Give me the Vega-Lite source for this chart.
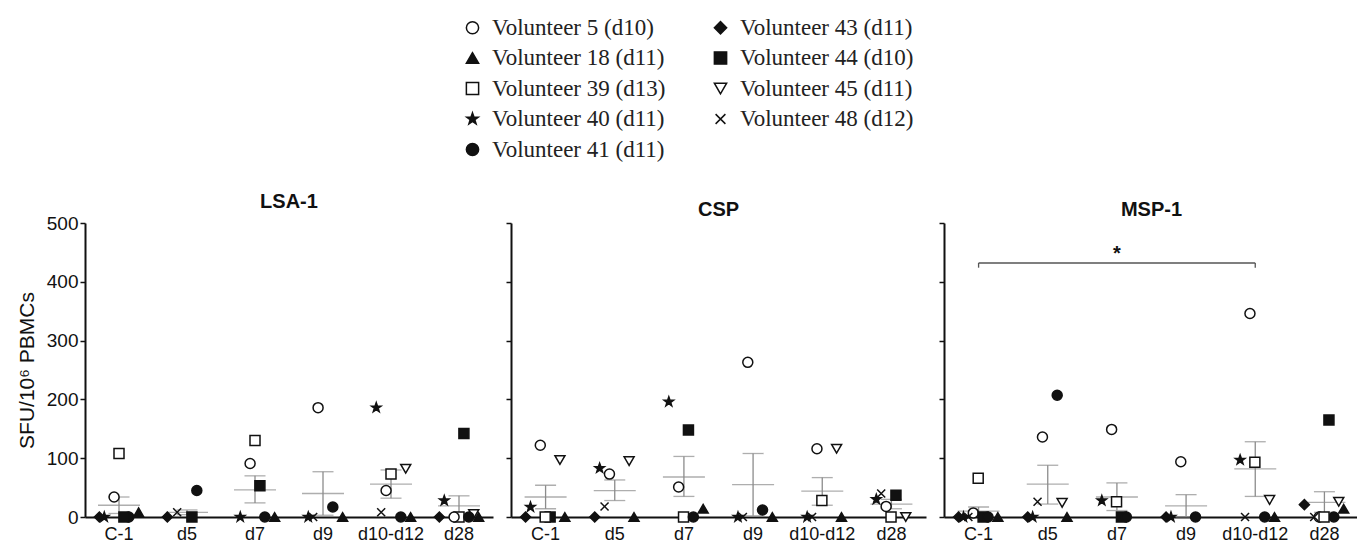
{
  "$schema": "https://vega.github.io/schema/vega-lite/v6.json",
  "padding": {"left": 16, "top": 16, "right": 0, "bottom": 2},
  "config": {
    "font": "Liberation Sans",
    "view": {"stroke": null},
    "axis": {"domainColor": "#111", "domainWidth": 2, "tickColor": "#111", "tickWidth": 1.5, "grid": false, "labelColor": "#111", "titleColor": "#111"},
    "title": {"font": "Liberation Sans", "fontSize": 20, "fontWeight": "bold", "color": "#111", "offset": 2}
  },
  "datasets": {
    "pts": [
      {"antigen": "LSA-1", "time": "C-1", "volunteer": "Volunteer 39 (d13)", "sfu": 108},
      {"antigen": "LSA-1", "time": "C-1", "volunteer": "Volunteer 5 (d10)", "sfu": 34},
      {"antigen": "LSA-1", "time": "C-1", "volunteer": "Volunteer 41 (d11)", "sfu": 0},
      {"antigen": "LSA-1", "time": "C-1", "volunteer": "Volunteer 44 (d10)", "sfu": 0},
      {"antigen": "LSA-1", "time": "C-1", "volunteer": "Volunteer 43 (d11)", "sfu": 0},
      {"antigen": "LSA-1", "time": "C-1", "volunteer": "Volunteer 40 (d11)", "sfu": 0},
      {"antigen": "LSA-1", "time": "C-1", "volunteer": "Volunteer 18 (d11)", "sfu": 8},
      {"antigen": "LSA-1", "time": "d5", "volunteer": "Volunteer 41 (d11)", "sfu": 45},
      {"antigen": "LSA-1", "time": "d5", "volunteer": "Volunteer 44 (d10)", "sfu": 0},
      {"antigen": "LSA-1", "time": "d5", "volunteer": "Volunteer 43 (d11)", "sfu": 0},
      {"antigen": "LSA-1", "time": "d5", "volunteer": "Volunteer 48 (d12)", "sfu": 8},
      {"antigen": "LSA-1", "time": "d7", "volunteer": "Volunteer 39 (d13)", "sfu": 130},
      {"antigen": "LSA-1", "time": "d7", "volunteer": "Volunteer 5 (d10)", "sfu": 91},
      {"antigen": "LSA-1", "time": "d7", "volunteer": "Volunteer 44 (d10)", "sfu": 53},
      {"antigen": "LSA-1", "time": "d7", "volunteer": "Volunteer 18 (d11)", "sfu": 0},
      {"antigen": "LSA-1", "time": "d7", "volunteer": "Volunteer 40 (d11)", "sfu": 0},
      {"antigen": "LSA-1", "time": "d7", "volunteer": "Volunteer 41 (d11)", "sfu": 0},
      {"antigen": "LSA-1", "time": "d9", "volunteer": "Volunteer 5 (d10)", "sfu": 186},
      {"antigen": "LSA-1", "time": "d9", "volunteer": "Volunteer 41 (d11)", "sfu": 17},
      {"antigen": "LSA-1", "time": "d9", "volunteer": "Volunteer 18 (d11)", "sfu": 0},
      {"antigen": "LSA-1", "time": "d9", "volunteer": "Volunteer 40 (d11)", "sfu": 0},
      {"antigen": "LSA-1", "time": "d9", "volunteer": "Volunteer 48 (d12)", "sfu": 0},
      {"antigen": "LSA-1", "time": "d10-d12", "volunteer": "Volunteer 40 (d11)", "sfu": 186},
      {"antigen": "LSA-1", "time": "d10-d12", "volunteer": "Volunteer 45 (d11)", "sfu": 82},
      {"antigen": "LSA-1", "time": "d10-d12", "volunteer": "Volunteer 39 (d13)", "sfu": 73},
      {"antigen": "LSA-1", "time": "d10-d12", "volunteer": "Volunteer 5 (d10)", "sfu": 45},
      {"antigen": "LSA-1", "time": "d10-d12", "volunteer": "Volunteer 48 (d12)", "sfu": 8},
      {"antigen": "LSA-1", "time": "d10-d12", "volunteer": "Volunteer 41 (d11)", "sfu": 0},
      {"antigen": "LSA-1", "time": "d10-d12", "volunteer": "Volunteer 18 (d11)", "sfu": 0},
      {"antigen": "LSA-1", "time": "d28", "volunteer": "Volunteer 44 (d10)", "sfu": 142},
      {"antigen": "LSA-1", "time": "d28", "volunteer": "Volunteer 40 (d11)", "sfu": 28},
      {"antigen": "LSA-1", "time": "d28", "volunteer": "Volunteer 39 (d13)", "sfu": 0},
      {"antigen": "LSA-1", "time": "d28", "volunteer": "Volunteer 45 (d11)", "sfu": 5},
      {"antigen": "LSA-1", "time": "d28", "volunteer": "Volunteer 43 (d11)", "sfu": 0},
      {"antigen": "LSA-1", "time": "d28", "volunteer": "Volunteer 41 (d11)", "sfu": 0},
      {"antigen": "LSA-1", "time": "d28", "volunteer": "Volunteer 18 (d11)", "sfu": 0},
      {"antigen": "LSA-1", "time": "d28", "volunteer": "Volunteer 5 (d10)", "sfu": 0},
      {"antigen": "CSP", "time": "C-1", "volunteer": "Volunteer 5 (d10)", "sfu": 122},
      {"antigen": "CSP", "time": "C-1", "volunteer": "Volunteer 45 (d11)", "sfu": 97},
      {"antigen": "CSP", "time": "C-1", "volunteer": "Volunteer 40 (d11)", "sfu": 17},
      {"antigen": "CSP", "time": "C-1", "volunteer": "Volunteer 43 (d11)", "sfu": 0},
      {"antigen": "CSP", "time": "C-1", "volunteer": "Volunteer 18 (d11)", "sfu": 0},
      {"antigen": "CSP", "time": "C-1", "volunteer": "Volunteer 44 (d10)", "sfu": 0},
      {"antigen": "CSP", "time": "C-1", "volunteer": "Volunteer 39 (d13)", "sfu": 0},
      {"antigen": "CSP", "time": "d5", "volunteer": "Volunteer 40 (d11)", "sfu": 83},
      {"antigen": "CSP", "time": "d5", "volunteer": "Volunteer 5 (d10)", "sfu": 73},
      {"antigen": "CSP", "time": "d5", "volunteer": "Volunteer 45 (d11)", "sfu": 95},
      {"antigen": "CSP", "time": "d5", "volunteer": "Volunteer 48 (d12)", "sfu": 18},
      {"antigen": "CSP", "time": "d5", "volunteer": "Volunteer 43 (d11)", "sfu": 0},
      {"antigen": "CSP", "time": "d5", "volunteer": "Volunteer 18 (d11)", "sfu": 0},
      {"antigen": "CSP", "time": "d7", "volunteer": "Volunteer 40 (d11)", "sfu": 196},
      {"antigen": "CSP", "time": "d7", "volunteer": "Volunteer 44 (d10)", "sfu": 148},
      {"antigen": "CSP", "time": "d7", "volunteer": "Volunteer 5 (d10)", "sfu": 51},
      {"antigen": "CSP", "time": "d7", "volunteer": "Volunteer 18 (d11)", "sfu": 14},
      {"antigen": "CSP", "time": "d7", "volunteer": "Volunteer 39 (d13)", "sfu": 0},
      {"antigen": "CSP", "time": "d7", "volunteer": "Volunteer 41 (d11)", "sfu": 0},
      {"antigen": "CSP", "time": "d9", "volunteer": "Volunteer 5 (d10)", "sfu": 263},
      {"antigen": "CSP", "time": "d9", "volunteer": "Volunteer 41 (d11)", "sfu": 12},
      {"antigen": "CSP", "time": "d9", "volunteer": "Volunteer 18 (d11)", "sfu": 0},
      {"antigen": "CSP", "time": "d9", "volunteer": "Volunteer 40 (d11)", "sfu": 0},
      {"antigen": "CSP", "time": "d9", "volunteer": "Volunteer 48 (d12)", "sfu": 0},
      {"antigen": "CSP", "time": "d10-d12", "volunteer": "Volunteer 5 (d10)", "sfu": 116},
      {"antigen": "CSP", "time": "d10-d12", "volunteer": "Volunteer 45 (d11)", "sfu": 116},
      {"antigen": "CSP", "time": "d10-d12", "volunteer": "Volunteer 39 (d13)", "sfu": 28},
      {"antigen": "CSP", "time": "d10-d12", "volunteer": "Volunteer 40 (d11)", "sfu": 0},
      {"antigen": "CSP", "time": "d10-d12", "volunteer": "Volunteer 48 (d12)", "sfu": 0},
      {"antigen": "CSP", "time": "d10-d12", "volunteer": "Volunteer 18 (d11)", "sfu": 0},
      {"antigen": "CSP", "time": "d28", "volunteer": "Volunteer 44 (d10)", "sfu": 37},
      {"antigen": "CSP", "time": "d28", "volunteer": "Volunteer 5 (d10)", "sfu": 18},
      {"antigen": "CSP", "time": "d28", "volunteer": "Volunteer 40 (d11)", "sfu": 30},
      {"antigen": "CSP", "time": "d28", "volunteer": "Volunteer 48 (d12)", "sfu": 40},
      {"antigen": "CSP", "time": "d28", "volunteer": "Volunteer 39 (d13)", "sfu": 0},
      {"antigen": "CSP", "time": "d28", "volunteer": "Volunteer 45 (d11)", "sfu": 0},
      {"antigen": "MSP-1", "time": "C-1", "volunteer": "Volunteer 39 (d13)", "sfu": 66},
      {"antigen": "MSP-1", "time": "C-1", "volunteer": "Volunteer 5 (d10)", "sfu": 7},
      {"antigen": "MSP-1", "time": "C-1", "volunteer": "Volunteer 43 (d11)", "sfu": 0},
      {"antigen": "MSP-1", "time": "C-1", "volunteer": "Volunteer 48 (d12)", "sfu": 0},
      {"antigen": "MSP-1", "time": "C-1", "volunteer": "Volunteer 40 (d11)", "sfu": 0},
      {"antigen": "MSP-1", "time": "C-1", "volunteer": "Volunteer 44 (d10)", "sfu": 0},
      {"antigen": "MSP-1", "time": "C-1", "volunteer": "Volunteer 18 (d11)", "sfu": 0},
      {"antigen": "MSP-1", "time": "C-1", "volunteer": "Volunteer 41 (d11)", "sfu": 0},
      {"antigen": "MSP-1", "time": "d5", "volunteer": "Volunteer 41 (d11)", "sfu": 207},
      {"antigen": "MSP-1", "time": "d5", "volunteer": "Volunteer 5 (d10)", "sfu": 136},
      {"antigen": "MSP-1", "time": "d5", "volunteer": "Volunteer 48 (d12)", "sfu": 26},
      {"antigen": "MSP-1", "time": "d5", "volunteer": "Volunteer 45 (d11)", "sfu": 24},
      {"antigen": "MSP-1", "time": "d5", "volunteer": "Volunteer 40 (d11)", "sfu": 0},
      {"antigen": "MSP-1", "time": "d5", "volunteer": "Volunteer 43 (d11)", "sfu": 0},
      {"antigen": "MSP-1", "time": "d5", "volunteer": "Volunteer 18 (d11)", "sfu": 0},
      {"antigen": "MSP-1", "time": "d7", "volunteer": "Volunteer 5 (d10)", "sfu": 149},
      {"antigen": "MSP-1", "time": "d7", "volunteer": "Volunteer 39 (d13)", "sfu": 26},
      {"antigen": "MSP-1", "time": "d7", "volunteer": "Volunteer 40 (d11)", "sfu": 28},
      {"antigen": "MSP-1", "time": "d7", "volunteer": "Volunteer 44 (d10)", "sfu": 0},
      {"antigen": "MSP-1", "time": "d7", "volunteer": "Volunteer 41 (d11)", "sfu": 0},
      {"antigen": "MSP-1", "time": "d9", "volunteer": "Volunteer 5 (d10)", "sfu": 94},
      {"antigen": "MSP-1", "time": "d9", "volunteer": "Volunteer 43 (d11)", "sfu": 0},
      {"antigen": "MSP-1", "time": "d9", "volunteer": "Volunteer 41 (d11)", "sfu": 0},
      {"antigen": "MSP-1", "time": "d9", "volunteer": "Volunteer 40 (d11)", "sfu": 0},
      {"antigen": "MSP-1", "time": "d10-d12", "volunteer": "Volunteer 5 (d10)", "sfu": 346},
      {"antigen": "MSP-1", "time": "d10-d12", "volunteer": "Volunteer 39 (d13)", "sfu": 93},
      {"antigen": "MSP-1", "time": "d10-d12", "volunteer": "Volunteer 40 (d11)", "sfu": 97},
      {"antigen": "MSP-1", "time": "d10-d12", "volunteer": "Volunteer 45 (d11)", "sfu": 29},
      {"antigen": "MSP-1", "time": "d10-d12", "volunteer": "Volunteer 18 (d11)", "sfu": 0},
      {"antigen": "MSP-1", "time": "d10-d12", "volunteer": "Volunteer 41 (d11)", "sfu": 0},
      {"antigen": "MSP-1", "time": "d10-d12", "volunteer": "Volunteer 48 (d12)", "sfu": 0},
      {"antigen": "MSP-1", "time": "d28", "volunteer": "Volunteer 44 (d10)", "sfu": 165},
      {"antigen": "MSP-1", "time": "d28", "volunteer": "Volunteer 43 (d11)", "sfu": 21},
      {"antigen": "MSP-1", "time": "d28", "volunteer": "Volunteer 45 (d11)", "sfu": 26},
      {"antigen": "MSP-1", "time": "d28", "volunteer": "Volunteer 18 (d11)", "sfu": 14},
      {"antigen": "MSP-1", "time": "d28", "volunteer": "Volunteer 5 (d10)", "sfu": 0},
      {"antigen": "MSP-1", "time": "d28", "volunteer": "Volunteer 48 (d12)", "sfu": 0},
      {"antigen": "MSP-1", "time": "d28", "volunteer": "Volunteer 41 (d11)", "sfu": 0},
      {"antigen": "MSP-1", "time": "d28", "volunteer": "Volunteer 39 (d13)", "sfu": 0}
    ],
    "stats": [
      {"antigen": "LSA-1", "time": "C-1", "mean": 20, "lo": 6, "hi": 34},
      {"antigen": "LSA-1", "time": "d5", "mean": 8, "lo": 4, "hi": 12},
      {"antigen": "LSA-1", "time": "d7", "mean": 46, "lo": 24, "hi": 70},
      {"antigen": "LSA-1", "time": "d9", "mean": 40, "lo": 3, "hi": 77},
      {"antigen": "LSA-1", "time": "d10-d12", "mean": 56, "lo": 32, "hi": 80},
      {"antigen": "LSA-1", "time": "d28", "mean": 19, "lo": 2, "hi": 36},
      {"antigen": "CSP", "time": "C-1", "mean": 34, "lo": 14, "hi": 54},
      {"antigen": "CSP", "time": "d5", "mean": 45, "lo": 28, "hi": 63},
      {"antigen": "CSP", "time": "d7", "mean": 68, "lo": 35, "hi": 103},
      {"antigen": "CSP", "time": "d9", "mean": 55, "lo": 2, "hi": 108},
      {"antigen": "CSP", "time": "d10-d12", "mean": 44, "lo": 20, "hi": 67},
      {"antigen": "CSP", "time": "d28", "mean": 22, "lo": 14, "hi": 30},
      {"antigen": "MSP-1", "time": "C-1", "mean": 10, "lo": 3, "hi": 17},
      {"antigen": "MSP-1", "time": "d5", "mean": 56, "lo": 22, "hi": 88},
      {"antigen": "MSP-1", "time": "d7", "mean": 34, "lo": 11, "hi": 58},
      {"antigen": "MSP-1", "time": "d9", "mean": 19, "lo": 0, "hi": 38},
      {"antigen": "MSP-1", "time": "d10-d12", "mean": 82, "lo": 35, "hi": 128},
      {"antigen": "MSP-1", "time": "d28", "mean": 25, "lo": 8, "hi": 43}
    ],
    "bracket": [
      {"from": "C-1", "to": "d10-d12", "y": 432}
    ],
    "bracketEnds": [
      {"time": "C-1", "y": 424, "y2": 432},
      {"time": "d10-d12", "y": 424, "y2": 432}
    ],
    "sigLabel": [
      {"time": "d7", "y": 447, "label": "*"}
    ]
  },
  "resolve": {"scale": {"shape": "shared", "fill": "shared"}, "legend": {"shape": "shared", "fill": "shared"}},
  "spacing": 12,
  "hconcat": [
    {
      "width": 408,
      "height": 294,
      "title": "LSA-1",
      "layer": [
        {
          "data": {"name": "stats"},
          "transform": [{"filter": "datum.antigen === 'LSA-1'"}],
          "mark": {"type": "rule", "color": "#8c8c8c", "strokeWidth": 1.3},
          "encoding": {
            "x": {"field": "time", "type": "nominal", "scale": {"domain": ["C-1", "d5", "d7", "d9", "d10-d12", "d28"], "paddingInner": 0.35, "paddingOuter": 0.175}, "axis": {"title": null, "labelAngle": 0, "labelFontSize": 18, "ticks": false, "labelPadding": 8}},
            "y": {"field": "lo", "type": "quantitative", "scale": {"domain": [0, 500], "nice": false}, "axis": {"title": "SFU/10⁶ PBMCs", "titleFontSize": 21, "titleFontWeight": "normal", "labelFontSize": 19, "values": [0, 100, 200, 300, 400, 500], "tickSize": 5, "labelPadding": 2, "titlePadding": 9}},
            "y2": {"field": "hi"}
          }
        },
        {
          "data": {"name": "stats"},
          "transform": [{"filter": "datum.antigen === 'LSA-1'"}],
          "mark": {"type": "tick", "color": "#8c8c8c", "thickness": 1.3, "size": 42},
          "encoding": {"x": {"field": "time", "type": "nominal"}, "y": {"field": "mean", "type": "quantitative"}}
        },
        {
          "data": {"name": "stats"},
          "transform": [{"filter": "datum.antigen === 'LSA-1'"}],
          "mark": {"type": "tick", "color": "#8c8c8c", "thickness": 1.3, "size": 21},
          "encoding": {"x": {"field": "time", "type": "nominal"}, "y": {"field": "hi", "type": "quantitative"}}
        },
        {
          "data": {"name": "stats"},
          "transform": [{"filter": "datum.antigen === 'LSA-1'"}],
          "mark": {"type": "tick", "color": "#8c8c8c", "thickness": 1.3, "size": 21},
          "encoding": {"x": {"field": "time", "type": "nominal"}, "y": {"field": "lo", "type": "quantitative"}}
        },
        {
          "data": {"name": "pts"},
          "transform": [{"filter": "datum.antigen === 'LSA-1'"}],
          "mark": {"type": "point", "stroke": "#111", "strokeWidth": 1.5, "opacity": 1, "size": 100},
          "encoding": {
            "x": {"field": "time", "type": "nominal"},
            "xOffset": {"field": "volunteer", "type": "nominal", "scale": {"domain": ["Volunteer 43 (d11)", "Volunteer 40 (d11)", "Volunteer 48 (d12)", "Volunteer 5 (d10)", "Volunteer 39 (d13)", "Volunteer 44 (d10)", "Volunteer 41 (d11)", "Volunteer 45 (d11)", "Volunteer 18 (d11)"]}},
            "y": {"field": "sfu", "type": "quantitative"},
            "shape": {"field": "volunteer", "type": "nominal", "scale": {"domain": ["Volunteer 5 (d10)", "Volunteer 18 (d11)", "Volunteer 39 (d13)", "Volunteer 40 (d11)", "Volunteer 41 (d11)", "Volunteer 43 (d11)", "Volunteer 44 (d10)", "Volunteer 45 (d11)", "Volunteer 48 (d12)"], "range": ["circle", "triangle-up", "square", "M0,-1L0.235,-0.324L0.951,-0.309L0.38,0.124L0.588,0.809L0,0.4L-0.588,0.809L-0.38,0.124L-0.951,-0.309L-0.235,-0.324Z", "circle", "diamond", "square", "triangle-down", "M-0.8,-0.8L0.8,0.8M-0.8,0.8L0.8,-0.8"]}, "legend": {"title": null, "orient": "none", "legendX": 376, "legendY": -207, "columns": 2, "labelFont": "Liberation Serif", "labelFontSize": 23, "labelColor": "#222", "labelLimit": 400, "symbolSize": 150, "rowPadding": 6.5, "columnPadding": 43, "labelOffset": 8, "encode": {"symbols": {"update": {"stroke": {"value": "#111"}, "strokeWidth": {"value": 2}}}}}},
            "fill": {"field": "volunteer", "type": "nominal", "scale": {"domain": ["Volunteer 5 (d10)", "Volunteer 18 (d11)", "Volunteer 39 (d13)", "Volunteer 40 (d11)", "Volunteer 41 (d11)", "Volunteer 43 (d11)", "Volunteer 44 (d10)", "Volunteer 45 (d11)", "Volunteer 48 (d12)"], "range": ["white", "#111", "white", "#111", "#111", "#111", "#111", "white", "#111"]}, "legend": {"title": null, "orient": "none", "legendX": 376, "legendY": -207, "columns": 2, "labelFont": "Liberation Serif", "labelFontSize": 23, "labelColor": "#222", "labelLimit": 400, "symbolSize": 150, "rowPadding": 6.5, "columnPadding": 43, "labelOffset": 8, "encode": {"symbols": {"update": {"stroke": {"value": "#111"}, "strokeWidth": {"value": 2}}}}}}
          }
        }
      ]
    },
    {
      "width": 415,
      "height": 294,
      "title": "CSP",
      "layer": [
        {
          "data": {"name": "stats"},
          "transform": [{"filter": "datum.antigen === 'CSP'"}],
          "mark": {"type": "rule", "color": "#8c8c8c", "strokeWidth": 1.3},
          "encoding": {
            "x": {"field": "time", "type": "nominal", "scale": {"domain": ["C-1", "d5", "d7", "d9", "d10-d12", "d28"], "paddingInner": 0.35, "paddingOuter": 0.175}, "axis": {"title": null, "labelAngle": 0, "labelFontSize": 18, "ticks": false, "labelPadding": 8}},
            "y": {"field": "lo", "type": "quantitative", "scale": {"domain": [0, 500], "nice": false}, "axis": {"title": null, "labels": false, "values": [0, 100, 200, 300, 400, 500], "tickSize": 5}},
            "y2": {"field": "hi"}
          }
        },
        {
          "data": {"name": "stats"},
          "transform": [{"filter": "datum.antigen === 'CSP'"}],
          "mark": {"type": "tick", "color": "#8c8c8c", "thickness": 1.3, "size": 42},
          "encoding": {"x": {"field": "time", "type": "nominal"}, "y": {"field": "mean", "type": "quantitative"}}
        },
        {
          "data": {"name": "stats"},
          "transform": [{"filter": "datum.antigen === 'CSP'"}],
          "mark": {"type": "tick", "color": "#8c8c8c", "thickness": 1.3, "size": 21},
          "encoding": {"x": {"field": "time", "type": "nominal"}, "y": {"field": "hi", "type": "quantitative"}}
        },
        {
          "data": {"name": "stats"},
          "transform": [{"filter": "datum.antigen === 'CSP'"}],
          "mark": {"type": "tick", "color": "#8c8c8c", "thickness": 1.3, "size": 21},
          "encoding": {"x": {"field": "time", "type": "nominal"}, "y": {"field": "lo", "type": "quantitative"}}
        },
        {
          "data": {"name": "pts"},
          "transform": [{"filter": "datum.antigen === 'CSP'"}],
          "mark": {"type": "point", "stroke": "#111", "strokeWidth": 1.5, "opacity": 1, "size": 100},
          "encoding": {
            "x": {"field": "time", "type": "nominal"},
            "xOffset": {"field": "volunteer", "type": "nominal", "scale": {"domain": ["Volunteer 43 (d11)", "Volunteer 40 (d11)", "Volunteer 48 (d12)", "Volunteer 5 (d10)", "Volunteer 39 (d13)", "Volunteer 44 (d10)", "Volunteer 41 (d11)", "Volunteer 45 (d11)", "Volunteer 18 (d11)"]}},
            "y": {"field": "sfu", "type": "quantitative"},
            "shape": {"field": "volunteer", "type": "nominal"},
            "fill": {"field": "volunteer", "type": "nominal"}
          }
        }
      ]
    },
    {
      "width": 415,
      "height": 294,
      "title": "MSP-1",
      "layer": [
        {
          "data": {"name": "stats"},
          "transform": [{"filter": "datum.antigen === 'MSP-1'"}],
          "mark": {"type": "rule", "color": "#8c8c8c", "strokeWidth": 1.3},
          "encoding": {
            "x": {"field": "time", "type": "nominal", "scale": {"domain": ["C-1", "d5", "d7", "d9", "d10-d12", "d28"], "paddingInner": 0.35, "paddingOuter": 0.175}, "axis": {"title": null, "labelAngle": 0, "labelFontSize": 18, "ticks": false, "labelPadding": 8}},
            "y": {"field": "lo", "type": "quantitative", "scale": {"domain": [0, 500], "nice": false}, "axis": {"title": null, "labels": false, "values": [0, 100, 200, 300, 400, 500], "tickSize": 5}},
            "y2": {"field": "hi"}
          }
        },
        {
          "data": {"name": "stats"},
          "transform": [{"filter": "datum.antigen === 'MSP-1'"}],
          "mark": {"type": "tick", "color": "#8c8c8c", "thickness": 1.3, "size": 42},
          "encoding": {"x": {"field": "time", "type": "nominal"}, "y": {"field": "mean", "type": "quantitative"}}
        },
        {
          "data": {"name": "stats"},
          "transform": [{"filter": "datum.antigen === 'MSP-1'"}],
          "mark": {"type": "tick", "color": "#8c8c8c", "thickness": 1.3, "size": 21},
          "encoding": {"x": {"field": "time", "type": "nominal"}, "y": {"field": "hi", "type": "quantitative"}}
        },
        {
          "data": {"name": "stats"},
          "transform": [{"filter": "datum.antigen === 'MSP-1'"}],
          "mark": {"type": "tick", "color": "#8c8c8c", "thickness": 1.3, "size": 21},
          "encoding": {"x": {"field": "time", "type": "nominal"}, "y": {"field": "lo", "type": "quantitative"}}
        },
        {
          "data": {"name": "bracket"},
          "mark": {"type": "rule", "color": "#555", "strokeWidth": 1.3},
          "encoding": {"x": {"field": "from", "type": "nominal"}, "x2": {"field": "to"}, "y": {"field": "y", "type": "quantitative"}}
        },
        {
          "data": {"name": "bracketEnds"},
          "mark": {"type": "rule", "color": "#555", "strokeWidth": 1.3},
          "encoding": {"x": {"field": "time", "type": "nominal"}, "y": {"field": "y", "type": "quantitative"}, "y2": {"field": "y2"}}
        },
        {
          "data": {"name": "sigLabel"},
          "mark": {"type": "text", "fontSize": 20, "fontWeight": "bold", "color": "#111", "baseline": "middle"},
          "encoding": {"x": {"field": "time", "type": "nominal"}, "y": {"field": "y", "type": "quantitative"}, "text": {"field": "label"}}
        },
        {
          "data": {"name": "pts"},
          "transform": [{"filter": "datum.antigen === 'MSP-1'"}],
          "mark": {"type": "point", "stroke": "#111", "strokeWidth": 1.5, "opacity": 1, "size": 100},
          "encoding": {
            "x": {"field": "time", "type": "nominal"},
            "xOffset": {"field": "volunteer", "type": "nominal", "scale": {"domain": ["Volunteer 43 (d11)", "Volunteer 40 (d11)", "Volunteer 48 (d12)", "Volunteer 5 (d10)", "Volunteer 39 (d13)", "Volunteer 44 (d10)", "Volunteer 41 (d11)", "Volunteer 45 (d11)", "Volunteer 18 (d11)"]}},
            "y": {"field": "sfu", "type": "quantitative"},
            "shape": {"field": "volunteer", "type": "nominal"},
            "fill": {"field": "volunteer", "type": "nominal"}
          }
        }
      ]
    }
  ]
}
